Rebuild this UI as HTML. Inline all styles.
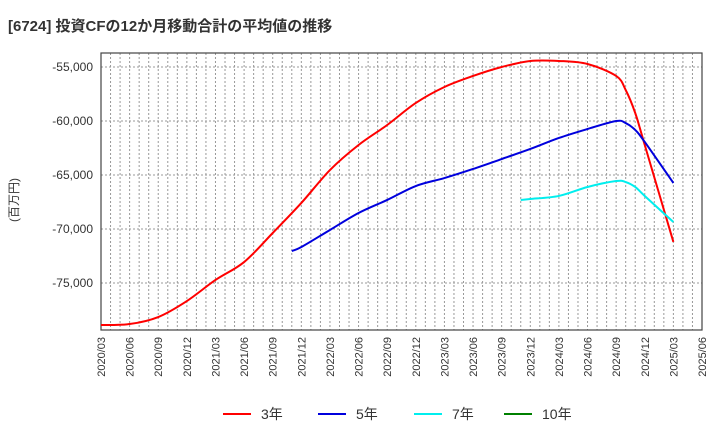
<!DOCTYPE html>
<html><head><meta charset="utf-8"><style>
body{margin:0;background:#fff;font-family:"Liberation Sans","Noto Sans CJK JP",sans-serif;}
</style></head><body>
<svg id="c" width="720" height="440" xmlns="http://www.w3.org/2000/svg" style="font-family:'Liberation Sans','Noto Sans CJK JP',sans-serif">
<text x="8" y="31" font-size="15" font-weight="bold" fill="#333">[6724]  投資CFの12か月移動合計の平均値の推移</text>
<text transform="translate(18,200) rotate(-90)" text-anchor="middle" font-size="12" fill="#333">(百万円)</text>
<g id="grid"></g><g id="axes"></g><g id="series"></g><g id="legend"></g>
</svg>
<script>
const xLabels=["2020/03","2020/06","2020/09","2020/12","2021/03","2021/06","2021/09","2021/12","2022/03","2022/06","2022/09","2022/12","2023/03","2023/06","2023/09","2023/12","2024/03","2024/06","2024/09","2024/12","2025/03","2025/06"];
const yTicks=[-55000,-60000,-65000,-70000,-75000];
const months3=[0,3,6,9,12,15,18,21,24,27,30,33,36,39,42,45,48,51,54,55,56,57,60];
const vals3=[-78890,-78800,-78150,-76670,-74720,-73060,-70370,-67590,-64540,-62220,-60370,-58330,-56850,-55830,-55000,-54440,-54440,-54720,-55830,-57130,-59260,-62220,-71200];
const months5=[20,21,24,27,30,33,36,39,42,45,48,51,54,55,56,57,60];
const vals5=[-72040,-71670,-70090,-68520,-67310,-66020,-65280,-64440,-63520,-62590,-61570,-60740,-60000,-60190,-60830,-61940,-65740];
const months7=[44,45,48,51,54,55,56,57,60];
const vals7=[-67310,-67220,-66940,-66110,-65560,-65650,-66110,-66940,-69350];
const months10=[];
const vals10=[];
const L=101,R=702,T=53,B=330;
const xs=m=>L+m*(R-L)/63;
const ys=v=>67+(-55000-v)*54/5000;
const NS="http://www.w3.org/2000/svg";
function mk(p,t,a){const e=document.createElementNS(NS,t);for(const k in a)e.setAttribute(k,a[k]);p.appendChild(e);return e;}
const grid=document.getElementById('grid'),axes=document.getElementById('axes'),ser=document.getElementById('series'),leg=document.getElementById('legend');
for(let m=1;m<63;m++){const l=mk(grid,'line',{x1:xs(m),x2:xs(m),y1:T,y2:B,stroke:'#999','stroke-dasharray':'2,2','stroke-width':1});

}
yTicks.forEach(v=>{const y=ys(v);const l=mk(grid,'line',{x1:L,x2:R,y1:y,y2:y,stroke:'#999','stroke-dasharray':'2,2'});


const t=mk(axes,'text',{x:L-8,y:y+4,'text-anchor':'end','font-size':12,fill:'#333'});t.textContent=v.toLocaleString('en-US');

});
const fr=mk(axes,'rect',{x:L,y:T,width:R-L,height:B-T,fill:'none',stroke:'#444','stroke-width':1.2});


xLabels.forEach((s,i)=>{const x=xs(i*3);const t=mk(axes,'text',{transform:`translate(${x+4},337) rotate(-90)`,'text-anchor':'end','font-size':11,fill:'#333'});t.textContent=s;

});
function smooth(pts){let d='M'+pts[0][0]+','+pts[0][1];
for(let i=0;i<pts.length-1;i++){const p0=pts[Math.max(0,i-1)],p1=pts[i],p2=pts[i+1],p3=pts[Math.min(pts.length-1,i+2)];
const c1x=p1[0]+(p2[0]-p0[0])/6,c1y=p1[1]+(p2[1]-p0[1])/6,c2x=p2[0]-(p3[0]-p1[0])/6,c2y=p2[1]-(p3[1]-p1[1])/6;
d+=` C${c1x},${c1y} ${c2x},${c2y} ${p2[0]},${p2[1]}`;}return d;}
function line(ms,vs,c,n){if(!ms.length)return;const pts=ms.map((m,i)=>[xs(m),ys(vs[i])]);
const p=mk(ser,'path',{d:smooth(pts),fill:'none',stroke:c,'stroke-width':2,'stroke-linejoin':'round'});

}
line(months3,vals3,'#ff0000','line-3yr');
line(months5,vals5,'#0000dd','line-5yr');
line(months7,vals7,'#00eeee','line-7yr');
line(months10,vals10,'#008000','line-10yr');
[["3年","#ff0000",223],["5年","#0000dd",318],["7年","#00eeee",414],["10年","#008000",504]].forEach(e=>{
const g=mk(leg,'g',{});


mk(g,'line',{x1:e[2],x2:e[2]+28,y1:414,y2:414,stroke:e[1],'stroke-width':2});
const t=mk(g,'text',{x:e[2]+38,y:419,'font-size':14,fill:'#333'});t.textContent=e[0];});
</script>
</body></html>
